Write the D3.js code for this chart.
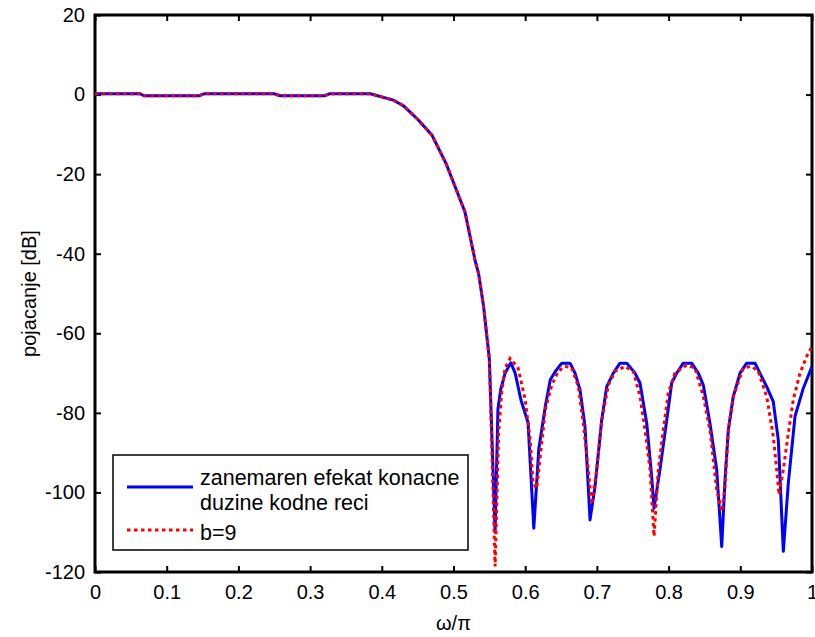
<!DOCTYPE html>
<html>
<head>
<meta charset="utf-8">
<script src="https://cdn.jsdelivr.net/npm/d3@7"></script>
<style>
    body { margin: 0; background: #fff; }
    text { font-family: "Liberation Sans", Arial, sans-serif; }
</style>
</head>
<body>
<div id="chart"></div>
<script>
// passband + transition band, same for both curves
var omegaCommon = [0, 0.063, 0.068, 0.145, 0.152, 0.25, 0.258, 0.32, 0.327, 0.384, 0.416, 0.43, 0.45, 0.47, 0.49, 0.508, 0.516, 0.53, 0.535, 0.542, 0.55]
var gainCommon  = [0.2, 0.2, -0.3, -0.3, 0.2, 0.2, -0.3, -0.3, 0.2, 0.2, -1.4, -2.8, -6.2, -10.2, -17.5, -25.8, -29.5, -41.6, -45, -53.3, -66.5]

// stopband, ideal coefficients
var omegaIdeal = [0.558, 0.562, 0.566, 0.572, 0.580, 0.586, 0.594, 0.604, 0.612, 0.619, 0.628, 0.635, 0.642, 0.651, 0.6625, 0.6695, 0.6764, 0.6834, 0.6904, 0.6974, 0.7067, 0.7137, 0.7229, 0.7322, 0.7416, 0.7531, 0.7601, 0.7695, 0.7764, 0.7797, 0.788, 0.7974, 0.8043, 0.8113, 0.8205, 0.8322, 0.8414, 0.8484, 0.8577, 0.8671, 0.8741, 0.8787, 0.8833, 0.8902, 0.8996, 0.9089, 0.9205, 0.9298, 0.9368, 0.946, 0.953, 0.96, 0.967, 0.9763, 0.9879, 0.9972, 1.0]
var gainIdeal  = [-110, -79, -74, -70, -67.4, -70, -76.7, -82.5, -109, -89, -78.4, -71.7, -69.6, -67.5, -67.5, -70, -74.2, -83.4, -106.9, -98.5, -81.8, -73.4, -70, -67.5, -67.5, -70, -72.5, -82.6, -96, -104, -94.2, -81.8, -72.5, -70, -67.5, -67.5, -70, -73, -82.6, -94.3, -113.6, -96.8, -84.3, -75.9, -70, -67.5, -67.5, -70.9, -73.4, -77.2, -86.8, -114.8, -97.6, -80.9, -73.8, -69.6, -68.4]

// stopband, coefficients quantized to b=9 bits
var omegaB9 = [0.558, 0.563, 0.567, 0.572, 0.579, 0.590, 0.600, 0.607, 0.611, 0.616, 0.622, 0.628, 0.637, 0.646, 0.6555, 0.6648, 0.6741, 0.681, 0.688, 0.6927, 0.6997, 0.7067, 0.7159, 0.7252, 0.7392, 0.7508, 0.7601, 0.7671, 0.7741, 0.7797, 0.7856, 0.7926, 0.7996, 0.8089, 0.8252, 0.8368, 0.8484, 0.8577, 0.8671, 0.8741, 0.8787, 0.8833, 0.8902, 0.9042, 0.9159, 0.9251, 0.9368, 0.946, 0.9508, 0.954, 0.96, 0.967, 0.9739, 0.9833, 0.9926, 1.0]
var gainB9  = [-118.6, -85, -75, -68.7, -66.3, -68.7, -76.7, -86.8, -97.6, -99, -89.3, -79.2, -73, -69.6, -68.3, -68.7, -73.4, -82.6, -94.3, -103, -94.3, -82, -73, -69.6, -68.3, -69.6, -75.9, -84.3, -94.3, -111, -94.3, -84.3, -75, -70, -68, -68.7, -75.9, -84.3, -99.3, -104.8, -98.5, -84.3, -75.9, -68.7, -68.3, -69.6, -75.9, -85.9, -94.3, -100.6, -94.3, -85.1, -76.7, -70, -65.8, -63.3]

var xTicks = [0, 0.1, 0.2, 0.3, 0.4, 0.5, 0.6, 0.7, 0.8, 0.9, 1]
var yTicks = [-120, -100, -80, -60, -40, -20, 0, 20]
var seriesNames = [["zanemaren efekat konacne", "duzine kodne reci"], ["b=9"]]

function zipPoints(w, g) {
    return w.map(function (d, i) { return [d, g[i]] })
}

var ideal = zipPoints(omegaCommon, gainCommon).concat(zipPoints(omegaIdeal, gainIdeal))
var quant = zipPoints(omegaCommon, gainCommon).concat(zipPoints(omegaB9, gainB9))

// plot box in pixels (don't call it "top", that's window.top)
var W = 815, H = 637
var margin = {left: 95, right: 812, top: 15, bottom: 572}

var svg = d3.select("#chart")
    .append("svg")
    .attr("width", W)
    .attr("height", H)

var x = d3.scaleLinear().domain([0, 1]).range([margin.left, margin.right])
var y = d3.scaleLinear().domain([-120, 20]).range([margin.bottom, margin.top])

svg.append("clipPath").attr("id", "clip")
    .append("rect")
    .attr("x", margin.left).attr("y", margin.top)
    .attr("width", margin.right - margin.left).attr("height", margin.bottom - margin.top)

// axes, ticks inward like matlab
var fmt = function (d) { return String(d) }
var tk = 6

svg.append("g")
    .attr("transform", "translate(0," + margin.bottom + ")")
    .call(d3.axisBottom(x).tickValues(xTicks).tickFormat(fmt).tickSizeInner(-tk).tickSizeOuter(0).tickPadding(13))
svg.append("g")
    .attr("transform", "translate(0," + margin.top + ")")
    .call(d3.axisTop(x).tickValues(xTicks).tickFormat("").tickSizeInner(-tk).tickSizeOuter(0))
svg.append("g")
    .attr("transform", "translate(" + margin.left + ",0)")
    .call(d3.axisLeft(y).tickValues(yTicks).tickFormat(fmt).tickSizeInner(-tk).tickSizeOuter(0).tickPadding(10))
svg.append("g")
    .attr("transform", "translate(" + margin.right + ",0)")
    .call(d3.axisRight(y).tickValues(yTicks).tickFormat("").tickSizeInner(-tk).tickSizeOuter(0))

svg.selectAll(".domain").remove()
svg.selectAll(".tick line").attr("stroke", "#000").attr("stroke-width", 2)
svg.selectAll(".tick text").attr("font-size", 20).attr("fill", "#000")

svg.append("rect")
    .attr("x", margin.left).attr("y", margin.top)
    .attr("width", margin.right - margin.left).attr("height", margin.bottom - margin.top)
    .attr("fill", "none")
    .attr("stroke", "#000")
    .attr("stroke-width", 3)

var line = d3.line()
    .x(function (d) { return x(d[0]) })
    .y(function (d) { return y(d[1]) })

var plot = svg.append("g").attr("clip-path", "url(#clip)")

plot.append("path")
    .datum(ideal)
    .attr("d", line)
    .attr("fill", "none")
    .attr("stroke", "#0000ff")
    .attr("stroke-width", 3)
    .attr("stroke-linejoin", "round")

plot.append("path")
    .datum(quant)
    .attr("d", line)
    .attr("fill", "none")
    .attr("stroke", "#ff0000")
    .attr("stroke-width", 3)
    .attr("stroke-dasharray", "3.5,3.5")

// axis labels
svg.append("text")
    .attr("x", (margin.left + margin.right) / 2)
    .attr("y", 630)
    .attr("text-anchor", "middle")
    .attr("font-size", 20)
    .text("ω/π")

svg.append("text")
    .attr("transform", "translate(36," + ((margin.top + margin.bottom) / 2) + ") rotate(-90)")
    .attr("text-anchor", "middle")
    .attr("font-size", 20)
    .text("pojacanje [dB]")

// legend
var lg = svg.append("g")
lg.append("rect")
    .attr("x", 113).attr("y", 455)
    .attr("width", 355).attr("height", 95)
    .attr("fill", "#fff")
    .attr("stroke", "#000")
    .attr("stroke-width", 1.5)

lg.append("line")
    .attr("x1", 127).attr("x2", 193).attr("y1", 487).attr("y2", 487)
    .attr("stroke", "#0000ff").attr("stroke-width", 3)
lg.append("line")
    .attr("x1", 127).attr("x2", 193).attr("y1", 530).attr("y2", 530)
    .attr("stroke", "#ff0000").attr("stroke-width", 3)
    .attr("stroke-dasharray", "3.5,3.5")

var lgBase = [[485, 510], [540]]
seriesNames.forEach(function (rows, i) {
    rows.forEach(function (t, j) {
        lg.append("text")
            .attr("x", 200)
            .attr("y", lgBase[i][j])
            .attr("font-size", 21.5)
            .text(t)
    })
})
</script>
</body>
</html>
